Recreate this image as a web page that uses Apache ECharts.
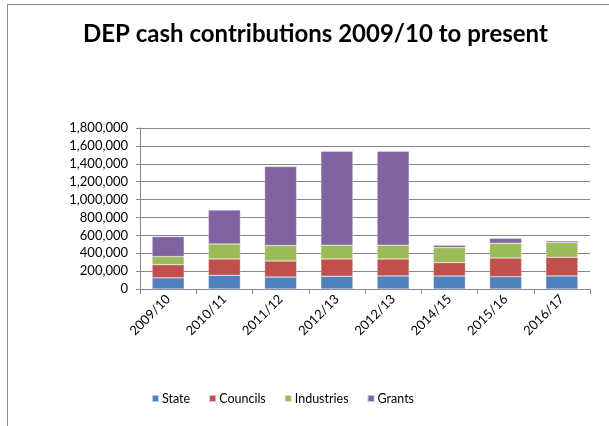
<!DOCTYPE html>
<html>
<head>
<meta charset="utf-8">
<script src="https://cdn.jsdelivr.net/npm/echarts@6/dist/echarts.min.js"></script>
<style>
  html, body { margin: 0; padding: 0; background: #fff; }
  #frame {
    position: absolute; left: 7px; top: 4px; width: 602px; height: 422px;
    border-top: 1px solid #8c8c8c; border-left: 1px solid #8c8c8c;
  }
  #chart { position: absolute; left: 0; top: 0; width: 609px; height: 426px; }
</style>
</head>
<body>
<div id="frame"></div>
<div id="chart"></div>
<script>
const years = ["2009/10", "2010/11", "2011/12", "2012/13", "2012/13", "2014/15", "2015/16", "2016/17"];
const state = [125000, 153000, 134000, 142000, 146000, 146000, 138000, 146000];
const councils = [147000, 183000, 180000, 194000, 190000, 149000, 209000, 209000];
const industries = [90000, 168000, 171000, 154000, 154000, 168000, 165000, 164000];
const grants = [224000, 378000, 885000, 1050000, 1050000, 27000, 56000, 19000];

const seriesNames = ["State", "Councils", "Industries", "Grants"];
const seriesData = [state, councils, industries, grants];
const colores = ["#4F81BD", "#C0504D", "#9BBB59", "#8064A2"];

var dom = document.getElementById("chart");
var myChart = echarts.init(dom, null, { renderer: "canvas" });

const fuente = "Lato, 'Open Sans', sans-serif";

const series = seriesNames.map((name, i) => {
  return {
    name,
    type: "bar",
    stack: "total",
    barWidth: "57%",
    data: seriesData[i],
    itemStyle: { color: colores[i], borderColor: "rgba(255,255,255,0.6)", borderWidth: 0.5 },
  };
});

var option = {
  animation: false,
  color: colores,
  title: {
    text: "DEP cash contributions 2009/10 to present",
    left: 78,
    top: 17,
    textStyle: { fontFamily: fuente, fontSize: 24, fontWeight: "bold", color: "#000" },
  },
  legend: {
    top: 387,
    left: 146,
    itemWidth: 7,
    itemHeight: 7,
    itemGap: 18,
    icon: "rect",
    textStyle: { fontFamily: fuente, fontSize: 12.5, color: "#000", padding: [0, 0, 0, -2] },
    data: seriesNames,
  },
  grid: { left: 140, right: 19, top: 128, bottom: 137 },
  xAxis: {
    type: "category",
    data: years,
    axisLine: { lineStyle: { color: "#868686" } },
    axisTick: { show: true, length: 5, lineStyle: { color: "#868686" } },
    axisLabel: { rotate: 45, fontFamily: fuente, fontSize: 13, color: "#000", margin: 8, interval: 0 },
  },
  yAxis: {
    type: "value",
    min: 0,
    max: 1800000,
    interval: 200000,
    axisLine: { show: true, lineStyle: { color: "#868686" } },
    axisTick: { show: true, length: 4, lineStyle: { color: "#868686" } },
    splitLine: { lineStyle: { color: "#868686" } },
    axisLabel: {
      fontFamily: fuente, fontSize: 13, color: "#000", margin: 12,
      formatter: (v) => v.toLocaleString("en-US"),
    },
  },
  series,
};

myChart.setOption(option);
window.addEventListener("resize", myChart.resize);
</script>
</body>
</html>
